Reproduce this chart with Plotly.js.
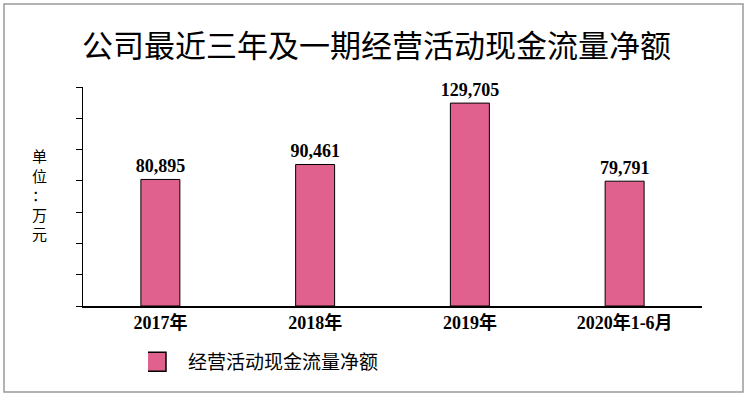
<!DOCTYPE html>
<html>
<head>
<meta charset="utf-8">
<script src="https://cdn.plot.ly/plotly-3.0.1.min.js"></script>
<style>
  html, body { margin: 0; padding: 0; background: #fff; }
  #chart { width: 750px; height: 398px; }
</style>
</head>
<body>
<div id="chart"></div>
<script>
const categories = ['2017年', '2018年', '2019年', '2020年1-6月'];
const cashFlow = [80895, 90461, 129705, 79791];
const seriesName = '经营活动现金流量净额';
const chartTitle = '公司最近三年及一期经营活动现金流量净额';
const unitLabel = ['单', '位', '：', '万', '元'];
const yTickValues = [0, 20000, 40000, 60000, 80000, 100000, 120000, 140000];

const serifFont = "'Liberation Serif', 'Times New Roman', 'Noto Sans CJK SC', serif";
const cjkFont = "'Noto Sans CJK SC', 'Liberation Serif', sans-serif";

const trace = {
  type: 'bar',
  x: categories,
  y: cashFlow,
  name: seriesName,
  width: 0.252,
  marker: { color: '#E0608E', line: { color: '#000000', width: 1 } },
  texttemplate: '%{y:,}',
  textposition: 'outside',
  constraintext: 'none',
  cliponaxis: false,
  textfont: { family: serifFont, size: 18, weight: 'bold', color: '#000' },
  hoverinfo: 'x+y'
};

const layout = {
  width: 750,
  height: 398,
  margin: { l: 83, r: 48, t: 87, b: 92 },
  paper_bgcolor: '#ffffff',
  plot_bgcolor: '#ffffff',
  title: {
    text: chartTitle,
    font: { family: cjkFont, size: 31, color: '#000' },
    x: 0.502, xanchor: 'center',
    y: 1 - 46 / 398, yanchor: 'middle'
  },
  xaxis: {
    type: 'category',
    showline: true, linecolor: '#000', linewidth: 1.5,
    ticks: '', showgrid: false, zeroline: false,
    tickfont: { family: serifFont, size: 18, weight: 'bold', color: '#000' }
  },
  yaxis: {
    range: [0, 140000],
    tickvals: yTickValues,
    showticklabels: false,
    showline: true, linecolor: '#000', linewidth: 1,
    ticks: 'outside', ticklen: 6, tickcolor: '#000', tickwidth: 1,
    showgrid: false, zeroline: false
  },
  showlegend: true,
  legend: {
    orientation: 'h',
    x: 0.105, xanchor: 'left',
    y: -0.2557, yanchor: 'middle',
    font: { family: cjkFont, size: 19, color: '#000' },
    bgcolor: 'rgba(0,0,0,0)'
  },
  annotations: [{
    xref: 'paper', yref: 'paper',
    x: -0.0695, y: 0.51,
    xanchor: 'center', yanchor: 'middle',
    text: unitLabel.join('<br>'),
    showarrow: false,
    font: { family: cjkFont, size: 15, color: '#000' }
  }],
  shapes: [{
    type: 'rect', xref: 'paper', yref: 'paper',
    x0: (4 - 83) / 619, x1: (743 - 83) / 619,
    y0: (306 - 392) / 219, y1: (306 - 4) / 219,
    line: { color: '#9a9a9a', width: 1.5 },
    fillcolor: 'rgba(0,0,0,0)',
    layer: 'below'
  }]
};

Plotly.newPlot('chart', [trace], layout, { displayModeBar: false, staticPlot: true }).then(function (gd) {
  const pts = gd.querySelectorAll('.legend .legendpoints path');
  pts.forEach(function (p) {
    p.setAttribute('d', 'M-2,9.5H-28V-9.5H-2Z');
    p.style.strokeWidth = '1.5px';
  });
});
</script>
</body>
</html>
